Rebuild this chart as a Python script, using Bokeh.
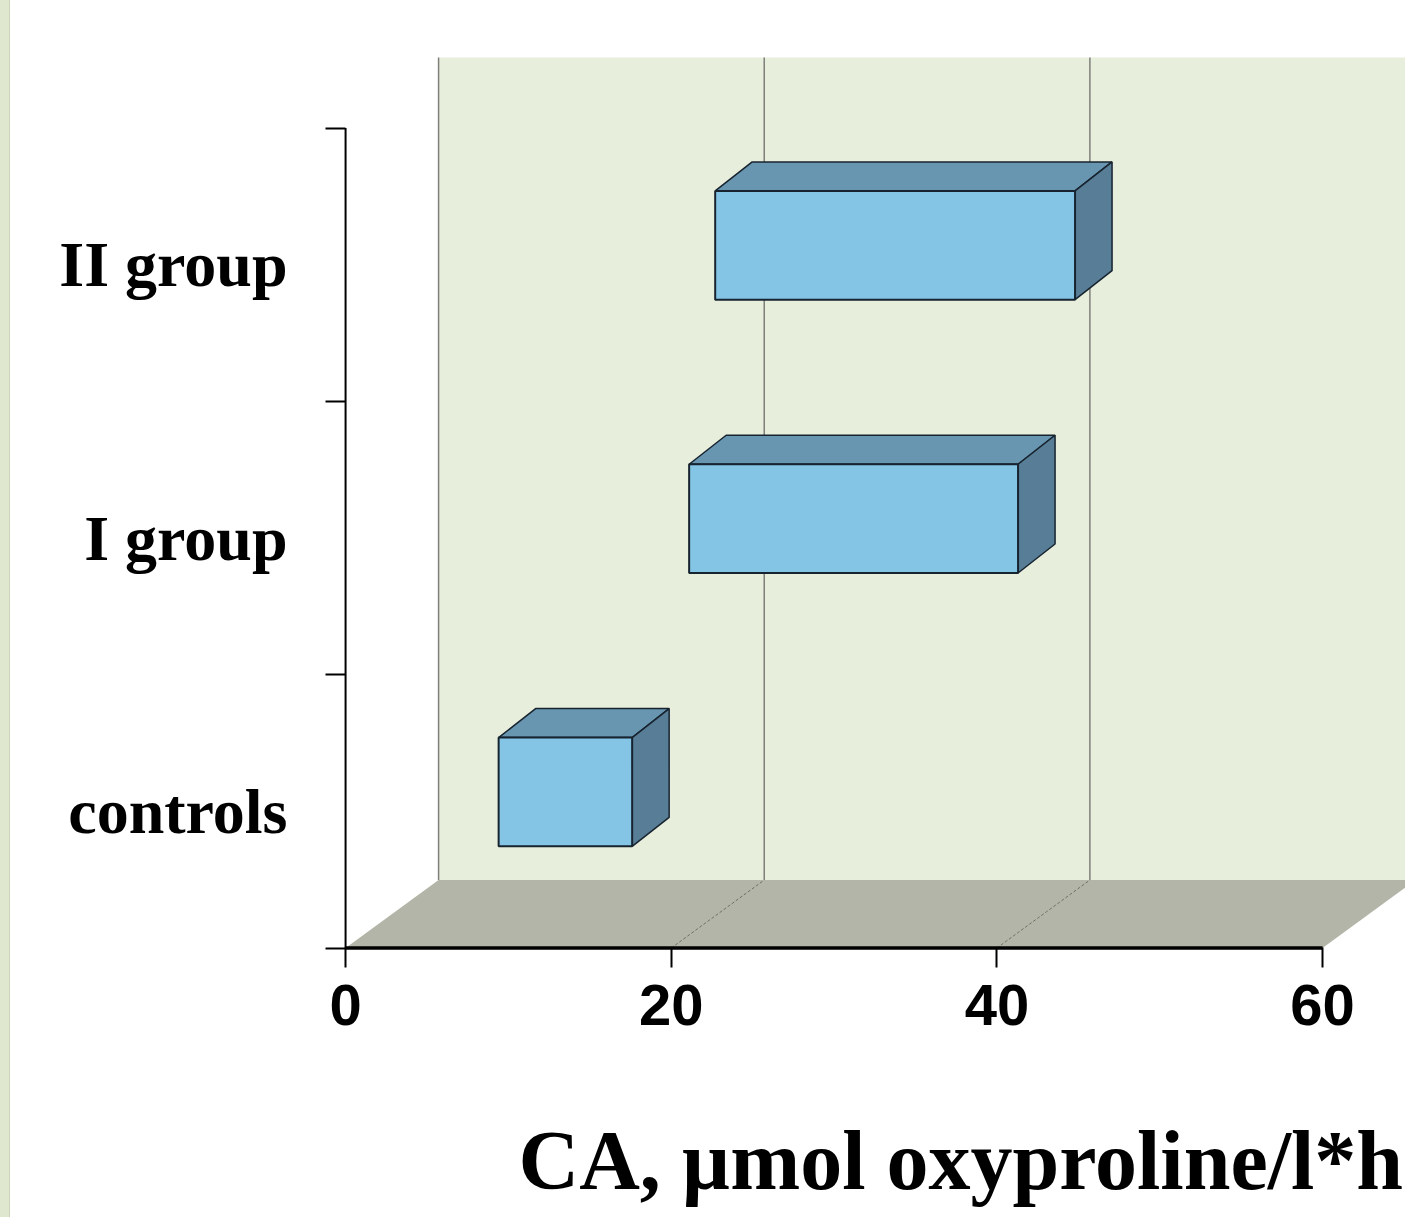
from bokeh.plotting import figure
from bokeh.models import Range1d, FixedTicker, Title, ColumnDataSource, Spacer
from bokeh.layouts import row
from bokeh.embed import file_html
from bokeh.resources import INLINE

# ---- data ----
categories = ["controls", "I group", "II group"]
ca_low = [9.4, 21.1, 22.7]
ca_high = [17.6, 41.3, 44.8]
x_ticks = [0, 20, 40, 60]
x_title = "CA, µmol oxyproline/l*h"

# ---- geometry / style ----
STRIP = 10
PX_PER_X = 16.283
PX_PER_Y = 273.33
W, H = 1405 - STRIP, 1217
LEFT, TOP = 341 - STRIP, 57
x_start = -0.25
x_end = x_start + (W - LEFT) / PX_PER_X
y_start = -0.02
BOTTOM = 264
y_end = y_start + (H - TOP - BOTTOM) / PX_PER_Y

floor_dx = 93 / PX_PER_X
floor_dy = 68 / PX_PER_Y
bar_dx = 37 / PX_PER_X
bar_dy = 29 / PX_PER_Y
bar_lo_off = -0.128
bar_hi_off = 0.27

WALL = "#E8EEDC"
FLOOR = "#B3B5A8"
FRONT = "#84C5E6"
TOPC = "#6896B0"
SIDE = "#587D96"
EDGE = "#17232F"

p = figure(width=W, height=H, output_backend="svg", toolbar_location=None,
           x_range=Range1d(x_start, x_end), y_range=Range1d(y_start, y_end),
           min_border_left=LEFT, min_border_right=0, min_border_top=TOP,
           min_border_bottom=BOTTOM, title=None)
p.background_fill_color = "white"
p.border_fill_color = "white"
p.outline_line_color = None
p.xgrid.visible = False
p.ygrid.visible = False

xmax = max(x_ticks)
n = len(categories)

# back wall
p.quad(left=[floor_dx], right=[x_end + 1], bottom=[floor_dy], top=[y_end + 1],
       fill_color=WALL, line_color=None)
# wall gridlines (incl. left edge)
gx = [t + floor_dx for t in x_ticks[:-1]]
p.segment(x0=gx, y0=[floor_dy] * len(gx), x1=gx, y1=[y_end + 1] * len(gx),
          line_color="#7E7F7A", line_width=1.5)
# floor
p.patch(x=[0, xmax, xmax + floor_dx, floor_dx], y=[0, 0, floor_dy, floor_dy],
        fill_color=FLOOR, line_color=None)
# floor diagonals
dx0 = x_ticks[1:-1]
p.segment(x0=dx0, y0=[0] * len(dx0), x1=[t + floor_dx for t in dx0],
          y1=[floor_dy] * len(dx0), line_color="#6F7168", line_width=1,
          line_dash="3 2")

# bars
centers = [i + 0.5 for i in range(n)]
bots = [c + bar_lo_off for c in centers]
tops = [c + bar_hi_off for c in centers]
top_xs = [[lo, lo + bar_dx, hi + bar_dx, hi] for lo, hi in zip(ca_low, ca_high)]
top_ys = [[t, t + bar_dy, t + bar_dy, t] for t in tops]
side_xs = [[hi, hi + bar_dx, hi + bar_dx, hi] for hi in ca_high]
side_ys = [[b, b + bar_dy, t + bar_dy, t] for b, t in zip(bots, tops)]
p.patches(xs=top_xs, ys=top_ys, fill_color=TOPC, line_color=EDGE, line_width=1.5)
p.patches(xs=side_xs, ys=side_ys, fill_color=SIDE, line_color=EDGE, line_width=1.5)
src = ColumnDataSource(dict(left=ca_low, right=ca_high, bottom=bots, top=tops))
p.quad(left="left", right="right", bottom="bottom", top="top", source=src,
       fill_color=FRONT, line_color=EDGE, line_width=2)

# axis lines
p.segment(x0=[0], y0=[0], x1=[xmax], y1=[0], line_color="black", line_width=3.5)
p.segment(x0=[0], y0=[0], x1=[0], y1=[n], line_color="black", line_width=2)

# x axis
xa = p.xaxis[0]
xa.ticker = FixedTicker(ticks=x_ticks, minor_ticks=[])
xa.axis_line_color = None
xa.major_tick_out = 14
xa.major_tick_in = 6
xa.major_tick_line_width = 2
xa.major_tick_line_color = "black"
xa.major_label_text_font = "Liberation Sans"
xa.major_label_text_font_style = "bold"
xa.major_label_text_font_size = "58px"
xa.major_label_text_color = "black"
xa.major_label_standoff = 17
xa.axis_label = " "
xa.axis_label_text_font_size = "10px"
xa.axis_label_standoff = 70

# y axis
ya = p.yaxis[0]
ya.ticker = FixedTicker(ticks=centers, minor_ticks=list(range(n + 1)))
ya.major_label_overrides = {c: lab for c, lab in zip(centers, categories)}
ya.axis_line_color = None
ya.major_tick_out = 0
ya.major_tick_in = 0
ya.minor_tick_out = 16
ya.minor_tick_in = 4
ya.minor_tick_line_width = 2
ya.minor_tick_line_color = "black"
ya.major_label_text_font = "Liberation Serif"
ya.major_label_text_font_style = "bold"
ya.major_label_text_font_size = "64px"
ya.major_label_text_color = "black"
ya.major_label_standoff = 38

t = Title(text=x_title, align="left", offset=177, standoff=0,
          vertical_align="bottom",
          text_font="Liberation Serif", text_font_style="bold",
          text_font_size="84px", text_color="black")
p.add_layout(t, "below")

strip = Spacer(width=STRIP, height=H,
               styles={"background-color": "#DFE7CF",
                       "border-right": "1px solid #CBD3BB"})
layout = row(strip, p, spacing=0)

open("out.html", "w").write(file_html(layout, INLINE))
